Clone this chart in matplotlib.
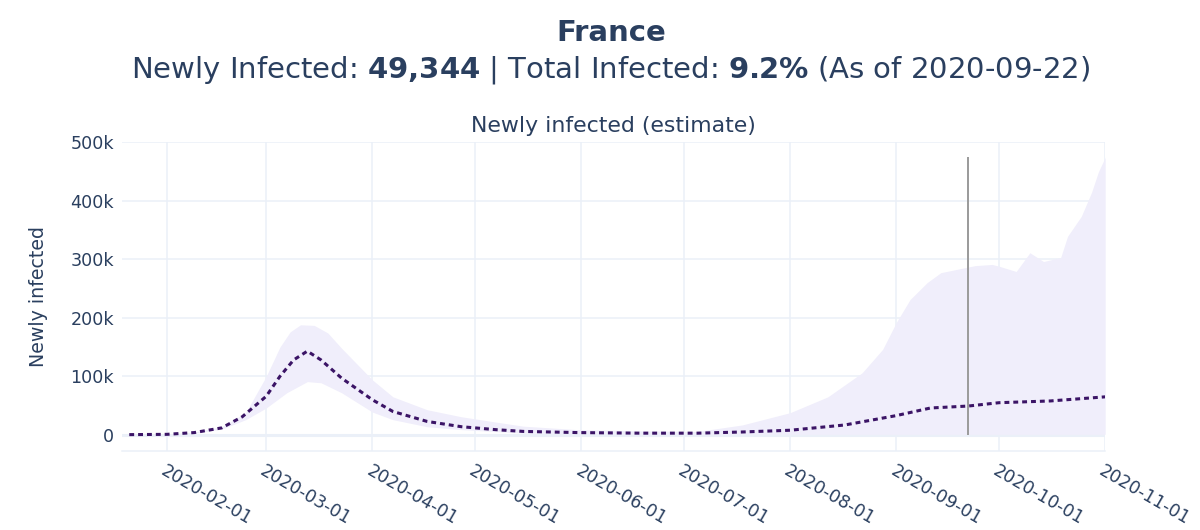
import numpy as np
import matplotlib
matplotlib.use("Agg")
import matplotlib.pyplot as plt
import matplotlib.dates as mdates
from matplotlib.ticker import FuncFormatter

plt.rcParams['font.family'] = ['DejaVu Sans']
plt.rcParams['mathtext.fontset'] = 'dejavusans'

# Datos (estimaciones)
dates = ['2020-01-21', '2020-02-01', '2020-02-09', '2020-02-17', '2020-02-23', '2020-02-26',
         '2020-03-01', '2020-03-05', '2020-03-09', '2020-03-13', '2020-03-17', '2020-03-23',
         '2020-04-01', '2020-04-07', '2020-04-17', '2020-04-27', '2020-05-07', '2020-05-15',
         '2020-05-31', '2020-06-18', '2020-07-05', '2020-07-18', '2020-08-01', '2020-08-17',
         '2020-09-01', '2020-09-11', '2020-09-22', '2020-10-01', '2020-10-16', '2020-11-01']
median = [0.5, 1, 4, 12, 31, 46, 66, 100, 128, 143, 128, 97, 60, 40, 23, 14, 9, 6,
          4, 3, 3, 5, 8, 17, 33, 46, 49.3, 55, 58, 65]

upper_dates = ['2020-01-21', '2020-02-01', '2020-02-09', '2020-02-17', '2020-02-24', '2020-03-01',
               '2020-03-05', '2020-03-08', '2020-03-11', '2020-03-15', '2020-03-19', '2020-03-23',
               '2020-04-01', '2020-04-07', '2020-04-17', '2020-04-27', '2020-05-07', '2020-05-15',
               '2020-05-31', '2020-06-18', '2020-07-05', '2020-07-18', '2020-08-01', '2020-08-12',
               '2020-08-22', '2020-08-28', '2020-09-01', '2020-09-05', '2020-09-10', '2020-09-14',
               '2020-09-19', '2020-09-24', '2020-09-29', '2020-10-01', '2020-10-06', '2020-10-10',
               '2020-10-14', '2020-10-19', '2020-10-21', '2020-10-25', '2020-10-28', '2020-10-30',
               '2020-11-01']
upper = [0.6, 1.5, 5, 14, 38, 100, 150, 176, 188, 187, 174, 148, 94, 65, 43, 31, 22, 15, 9,
         7, 6, 17, 38, 65, 106, 146, 192, 231, 260, 277, 283, 289, 291, 288, 279, 311, 296,
         303, 339, 373, 414, 449, 474]

lower_dates = ['2020-01-21', '2020-02-01', '2020-02-09', '2020-02-17', '2020-02-24', '2020-03-01',
               '2020-03-07', '2020-03-13', '2020-03-17', '2020-03-23', '2020-04-01', '2020-04-07',
               '2020-04-17', '2020-04-27', '2020-05-15', '2020-06-15', '2020-07-15', '2020-08-15',
               '2020-09-15', '2020-10-15', '2020-11-01']
lower = [0.4, 0.8, 3, 10, 26, 46, 72, 91, 89, 72, 39, 26, 14, 9, 3, 1.5, 1, 1, 1, 1, 1]

today = '2020-09-22'
tick_dates = ['2020-02-01', '2020-03-01', '2020-04-01', '2020-05-01', '2020-06-01',
              '2020-07-01', '2020-08-01', '2020-09-01', '2020-10-01', '2020-11-01']

to_dt = lambda lst: np.array(lst, dtype='datetime64[D]')
x_m = to_dt(dates)
x_u = to_dt(upper_dates)
x_l = to_dt(lower_dates)
# banda en una misma rejilla de fechas
x_band = np.union1d(x_u, x_l)
num = mdates.date2num
up_b = np.interp(num(x_band), num(x_u), upper)
lo_b = np.interp(num(x_band), num(x_l), lower)

txt = '#2a3f5f'
grid = '#ebf0f8'

fig = plt.figure(figsize=(12, 5.3), dpi=100)
ax = fig.add_axes([0.102, 0.149, 0.819, 0.583])

ax.fill_between(x_band, lo_b * 1000, up_b * 1000, color='#f0eefb', lw=0, zorder=2)
ax.plot(x_m, np.array(median) * 1000, color='#3b1466', lw=2.2,
        linestyle=(0, (1.6, 1.3)), zorder=4)
ax.vlines(np.datetime64(today), 0, max(upper) * 1000, color='#9a9a9a', lw=1.4, zorder=3)

ax.set_xlim(np.datetime64('2020-01-19'), np.datetime64('2020-11-01'))
ax.set_ylim(-27500, 500000)
ax.set_xticks(to_dt(tick_dates))
ax.xaxis.set_major_formatter(mdates.DateFormatter('%Y-%m-%d'))
ax.set_yticks([0, 100000, 200000, 300000, 400000, 500000])
ax.yaxis.set_major_formatter(FuncFormatter(lambda v, p: '0' if v == 0 else f'{int(v/1000)}k'))

ax.grid(True, color=grid, lw=1.1, zorder=0)
ax.axhline(0, color=grid, lw=2.2, zorder=1)
for s in ['top', 'right', 'left']:
    ax.spines[s].set_visible(False)
ax.spines['bottom'].set_color(grid)
ax.spines['bottom'].set_linewidth(1.1)
ax.tick_params(length=0, labelsize=12.6, colors=txt)
ax.tick_params(axis='y', pad=6)
ax.tick_params(axis='x', pad=8)
for lab in ax.get_xticklabels():
    lab.set_rotation(-30)
    lab.set_ha('left')
    lab.set_va('top')
    lab.set_rotation_mode('anchor')

ax.set_ylabel('Newly infected', fontsize=13.7, color=txt, labelpad=16)
ax.set_title('Newly infected (estimate)', fontsize=15.8, color=txt, pad=7)

fig.text(0.509, 0.937, 'France', ha='center', va='center', fontsize=21, fontweight='bold', color=txt)
fig.text(0.509, 0.867, r'Newly Infected: $\bf{49{,}344}$ | Total Infected: $\bf{9.2\%}$ (As of 2020-09-22)',
         ha='center', va='center', fontsize=21, color=txt)

fig.savefig('out.png', dpi=100)
